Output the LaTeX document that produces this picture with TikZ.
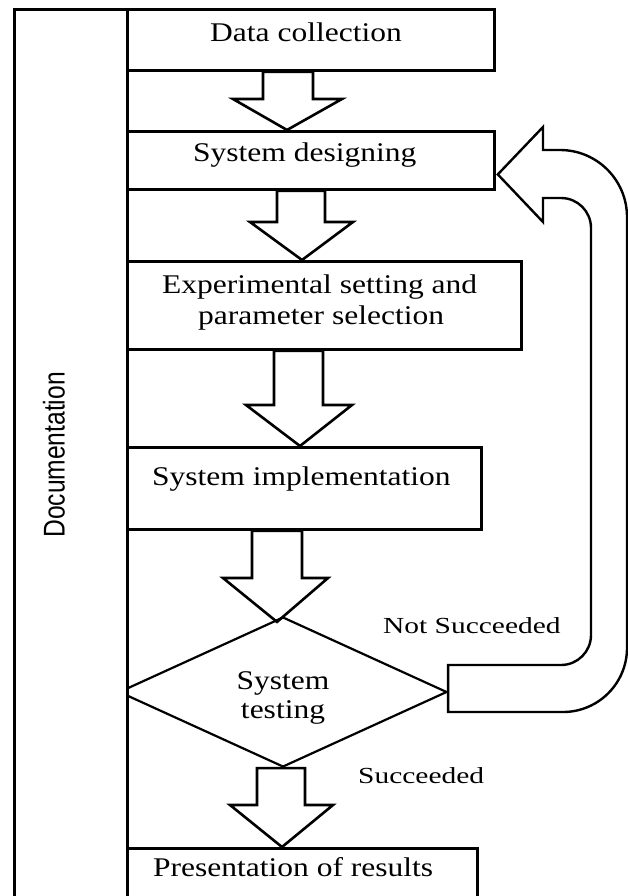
\documentclass[tikz,border=0pt]{standalone}
\usepackage{fontspec}
\setmainfont{Liberation Serif}
\newfontfamily\stepfont[FakeStretch=1.167]{Liberation Serif}
\newfontfamily\notefont[FakeStretch=1.28]{Liberation Serif}
\newfontfamily\sidefont[FakeStretch=0.82]{Liberation Sans}
\usetikzlibrary{shapes.geometric,calc}

% hollow block arrow from the bottom of #1 to the top of #2
% #3/#4 shaft left/right x, #5/#6 head left/right x, #7 y where the head starts,
% #8 x of the tip, #9 extra downward offset of the tip
\newcommand\blockarrow[9]{%
  \draw[blockarr] (#3,0 |- #1.south) -- (#3,#7) -- (#5,#7)
    -- ($(#8,0 |- #2.north)+(0,#9)$) -- (#6,#7) -- (#4,#7)
    -- (#4,0 |- #1.south) -- cycle;}

\begin{document}
\begin{tikzpicture}[x=1pt,y=-1pt,
  box/.style={draw, line width=2.8pt, rectangle, inner sep=0pt,
              anchor=north west, fill=white},
  decision/.style={draw, diamond, line width=2.2pt, inner sep=0pt,
              minimum width=328pt, minimum height=150pt},
  steptext/.style={font=\stepfont\fontsize{27}{31}\selectfont,
              inner sep=0pt, anchor=base west},
  notetext/.style={font=\notefont\fontsize{23}{27}\selectfont,
              inner sep=0pt, anchor=base west},
  sidetext/.style={font=\sidefont\fontsize{30}{34}\selectfont,
              inner sep=0pt, rotate=90},
  blockarr/.style={draw, line width=2.6pt, line join=miter},
  looparr/.style={draw, line width=2.4pt, line join=miter}]

\useasboundingbox (0,0) rectangle (628,896);
\clip (0,0) rectangle (628,896);

% decision diamond (its left tip is hidden by the side column)
\node[decision] (test) at (283,692) {};

% side column
\node[box, minimum width=113pt, minimum height=952pt] (doc) at (13,8) {};
\node[sidetext] (doclbl) at (54,455) {Documentation};

% process boxes
\node[box, minimum width=367pt, minimum height=61pt]  (dc) at (126,8) {};
\node[box, minimum width=367pt, minimum height=58pt]  (sd) at (126,130) {};
\node[box, minimum width=394pt, minimum height=88pt]  (ex) at (126,260) {};
\node[box, minimum width=354pt, minimum height=82pt]  (im) at (126,446) {};
\node[box, minimum width=350pt, minimum height=113pt] (pr) at (126,847) {};

% flow arrows
\blockarrow{dc}{sd}{263}{313}{233}{342}{99}{287}{0}
\blockarrow{sd}{ex}{277}{325}{250}{353}{222}{302}{0}
\blockarrow{ex}{im}{274}{323}{246}{352}{405}{300}{0}
\blockarrow{im}{test}{252}{302}{223}{328}{578}{277}{6}
\blockarrow{test}{pr}{257}{305}{230}{333}{805}{282}{0}

% loop back from the test to the design step
\draw[looparr] ($(test.east)+(0,-27)$) -- (561,665)
  .. controls (577.6,665) and (591,651.6) .. (591,635) -- (591,228)
  .. controls (591,211.4) and (577.6,198) .. (561,198) -- (543,198)
  -- (543,222) -- ($(sd.east)+(2,14)$) -- (543,127) -- (543,150) -- (560,150)
  .. controls (597,150) and (627,180) .. (627,217) -- (627,648)
  .. controls (627,683.3) and (598.3,712) .. (563,712)
  -- ($(test.east)+(0,20)$) -- cycle;

% step texts
\node[steptext] (dct) at (210,42)  {Data collection};
\node[steptext] (sdt) at (193,162) {System designing};
\node[steptext] (ext1) at (162,293) {Experimental setting and};
\node[steptext] (ext2) at (198,324) {parameter selection};
\node[steptext] (imt) at (152,485) {System implementation};
\node[steptext, anchor=base] (tt1) at (283,689) {System};
\node[steptext, anchor=base] (tt2) at (283,718) {testing};
\node[steptext] (prt) at (153,876) {Presentation of results};

% outcome labels
\node[notetext] (nots) at (383,633) {Not Succeeded};
\node[notetext] (succ) at (358,783) {Succeeded};
\end{tikzpicture}
\end{document}
